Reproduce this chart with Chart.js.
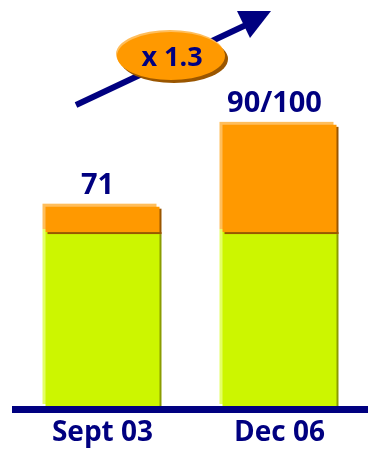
<!DOCTYPE html>
<html>
<head>
<meta charset="utf-8">
<script src="https://cdn.jsdelivr.net/npm/chart.js@4"></script>
<style>
  html, body { margin: 0; padding: 0; background: #fff; }
  #wrap { width: 368px; height: 449px; }
</style>
</head>
<body>
<div id="wrap"><canvas id="chart"></canvas></div>
<script>
// valeurs
const categories = ['Sept 03', 'Dec 06'];
const baseValues = [62, 62];
const topValues = [9, 38];
const totalLabels = ['71', '90/100'];
const growthLabel = 'x 1.3';

const navy = '#000080';
const font = '"Open Sans", sans-serif';

// ombre claire en haut a gauche, ombre foncee en bas a droite
const shades = [
  { light: '#e4ff66', dark: '#8a9c00' },
  { light: '#ffbe5c', dark: '#9a5600' }
];

function barBox(bar) {
  const p = bar.getProps(['x', 'y', 'base', 'width'], true);
  return { left: p.x - p.width / 2, top: p.y, w: p.width, h: p.base - p.y, base: p.base, x: p.x };
}

const bevel = {
  id: 'bevel',
  beforeDatasetsDraw(chart) {
    const ctx = chart.ctx;
    ctx.save();
    [0, 1].forEach(d => {
      chart.getDatasetMeta(d).data.forEach(bar => {
        const b = barBox(bar);
        ctx.fillStyle = shades[d].light;
        ctx.fillRect(b.left - 3, b.top - 3, b.w, b.h);
        ctx.fillStyle = shades[d].dark;
        ctx.fillRect(b.left + 2, b.top + 2, b.w, b.h);
      });
    });
    ctx.restore();
  },
  afterDatasetsDraw(chart) {
    // ombre sous la partie orange, par-dessus le vert
    const ctx = chart.ctx;
    ctx.save();
    ctx.fillStyle = shades[1].dark;
    chart.getDatasetMeta(1).data.forEach(bar => {
      const b = barBox(bar);
      ctx.fillRect(b.left + 2, b.base, b.w, 2);
    });
    ctx.restore();
  }
};

const decor = {
  id: 'decor',
  afterDatasetsDraw(chart) {
    const ctx = chart.ctx;
    const area = chart.chartArea;
    const y0 = chart.scales.y.getPixelForValue(0);

    // ligne de base
    ctx.save();
    ctx.fillStyle = navy;
    ctx.fillRect(area.left - 2, y0 - 1, area.right - area.left + 2, 7);

    // totaux au-dessus des barres
    const tops = chart.getDatasetMeta(1).data;
    ctx.font = 'bold 29px ' + font;
    ctx.textAlign = 'center';
    ctx.textBaseline = 'alphabetic';
    tops.forEach((bar, i) => {
      ctx.fillText(totalLabels[i], bar.x - 5, bar.y - 13);
    });

    // fleche de croissance
    ctx.strokeStyle = navy;
    ctx.lineWidth = 6;
    ctx.beginPath();
    ctx.moveTo(76, 105);
    ctx.lineTo(246, 25);
    ctx.stroke();
    ctx.fillStyle = navy;
    ctx.beginPath();
    ctx.moveTo(237, 11);
    ctx.lineTo(271, 11);
    ctx.lineTo(250, 38);
    ctx.closePath();
    ctx.fill();

    // ellipse x 1.3
    const cx = 171, cy = 56;
    ctx.fillStyle = '#9a5600';
    ctx.beginPath();
    ctx.ellipse(cx + 3, cy + 3, 54, 24, 0, 0, Math.PI * 2);
    ctx.fill();
    ctx.fillStyle = '#ffbe5c';
    ctx.beginPath();
    ctx.ellipse(cx - 1, cy - 2, 54, 24, 0, 0, Math.PI * 2);
    ctx.fill();
    ctx.fillStyle = '#ff9900';
    ctx.beginPath();
    ctx.ellipse(cx, cy, 54, 24, 0, 0, Math.PI * 2);
    ctx.fill();
    ctx.fillStyle = navy;
    ctx.font = 'bold 27px ' + font;
    ctx.textBaseline = 'middle';
    ctx.fillText(growthLabel, cx + 1, cy + 2);
    ctx.restore();
  }
};

new Chart(document.getElementById('chart'), {
  type: 'bar',
  data: {
    labels: categories,
    datasets: [
      { data: baseValues, backgroundColor: '#ccf600' },
      { data: topValues, backgroundColor: '#ff9900' }
    ]
  },
  options: {
    responsive: true,
    maintainAspectRatio: false,
    animation: false,
    layout: { padding: { top: 12, left: 14, right: 0, bottom: 0 } },
    datasets: { bar: { categoryPercentage: 1, barPercentage: 0.644, borderWidth: 0 } },
    plugins: { legend: { display: false }, tooltip: { enabled: false } },
    scales: {
      x: {
        stacked: true,
        grid: { display: false, drawTicks: false },
        border: { display: false },
        ticks: { color: navy, font: { family: font, size: 28, weight: 'bold', lineHeight: 1 }, padding: 12 },
        afterFit(scale) { scale.height = 42; }
      },
      y: { stacked: true, display: false, min: 0, max: 140 }
    }
  },
  plugins: [bevel, decor]
});
</script>
</body>
</html>
